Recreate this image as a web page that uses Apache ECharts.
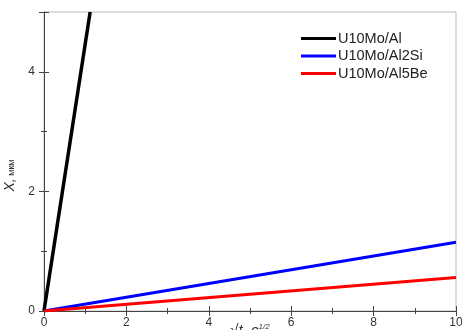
<!DOCTYPE html>
<html><head><meta charset="utf-8">
<script src="https://cdn.jsdelivr.net/npm/echarts@6/dist/echarts.min.js"></script>
<style>html,body{margin:0;padding:0;background:#fff}#c{width:462px;height:330px}</style>
</head><body><div id="c"></div>
<script>
const seriesNames = ['U10Mo/Al', 'U10Mo/Al2Si', 'U10Mo/Al5Be'];
const seriesColors = ['#000000', '#0000ff', '#ff0000'];
const xAl = [0, 1.12];
const yAl = [0, 5.0];
const xAl2Si = [0, 10];
const yAl2Si = [0, 1.15];
const xAl5Be = [0, 10];
const yAl5Be = [0, 0.56];
const xTicks = [0, 2, 4, 6, 8, 10];
const yTicks = [0, 2, 4];

const pairs = (xs, ys) => xs.map((x, i) => [x, ys[i]]);
const dataSets = [pairs(xAl, yAl), pairs(xAl2Si, yAl2Si), pairs(xAl5Be, yAl5Be)];

const chart = echarts.init(document.getElementById('c'));
const axisCol = '#444';
const font = 'Liberation Sans, Arial, sans-serif';
function xAxisDef(inside, labels) {
  return {
    type: 'value', min: 0, max: 10, interval: 2, position: 'bottom',
    axisLine: { show: labels, lineStyle: { color: axisCol, width: 1 } },
    axisTick: { show: true, inside: inside, length: 5, lineStyle: { color: axisCol } },
    minorTick: { show: true, splitNumber: 2, length: 3, lineStyle: { color: axisCol } },
    splitLine: { show: false },
    axisLabel: { show: labels, color: '#333', fontSize: 12, fontFamily: font, margin: 6,
      formatter: v => xTicks.includes(v) ? String(v) : '' },
    name: labels ? '{a|√t, c}{s|1/2}' : '',
    nameLocation: 'middle', nameGap: 12, nameMoveOverlap: false,
    nameTextStyle: { rich: {
      a: { fontSize: 15, fontStyle: 'italic', color: '#333', fontFamily: font },
      s: { fontSize: 8, fontStyle: 'italic', color: '#333', fontFamily: font, verticalAlign: 'top', padding: [0,0,8,0] }
    } }
  };
}
function yAxisDef(inside, labels) {
  return {
    type: 'value', min: 0, max: 5, interval: 2, position: 'left',
    axisLine: { show: labels, lineStyle: { color: axisCol, width: 1 } },
    axisTick: { show: true, inside: inside, length: 5, lineStyle: { color: axisCol } },
    minorTick: { show: true, splitNumber: 2, length: 3, lineStyle: { color: axisCol } },
    splitLine: { show: false },
    axisLabel: { show: labels, color: '#333', fontSize: 12, fontFamily: font, margin: 9,
      formatter: v => yTicks.includes(v) ? String(v) : '' },
    name: labels ? '{a|X,}{s| мкм}' : '',
    nameLocation: 'middle', nameGap: 27, nameRotate: 90, nameMoveOverlap: false,
    nameTextStyle: { padding: [0, 28, 0, 0], rich: {
      a: { fontSize: 14, fontStyle: 'italic', color: '#333', fontFamily: font },
      s: { fontSize: 9, color: '#333', fontFamily: font, padding: [4,0,0,0] }
    } }
  };
}
chart.setOption({
  animation: false,
  backgroundColor: '#fff',
  grid: { left: 44, right: 6, top: 12, bottom: 19, show: true, borderColor: '#bbb', borderWidth: 1,
    containLabel: false, outerBoundsMode: 'none' },
  xAxis: [xAxisDef(false, true), xAxisDef(true, false)],
  yAxis: [yAxisDef(false, true), yAxisDef(true, false)],
  legend: {
    left: 296, top: 26, orient: 'vertical', itemGap: 2.5,
    itemWidth: 35, itemHeight: 14,
    textStyle: { fontSize: 14.5, color: '#222', fontFamily: font, padding: [0,0,0,-3] },
    data: seriesNames.map(n => ({ name: n, icon: 'path://M0,6 L34,6 L34,9 L0,9 Z' }))
  },
  series: seriesNames.map((n, i) => ({
    name: n, type: 'line', data: dataSets[i], showSymbol: false, symbol: 'none',
    clip: true,
    lineStyle: { color: seriesColors[i], width: i === 0 ? 3.5 : 3 },
    itemStyle: { color: seriesColors[i] }
  }))
});
</script></body></html>
